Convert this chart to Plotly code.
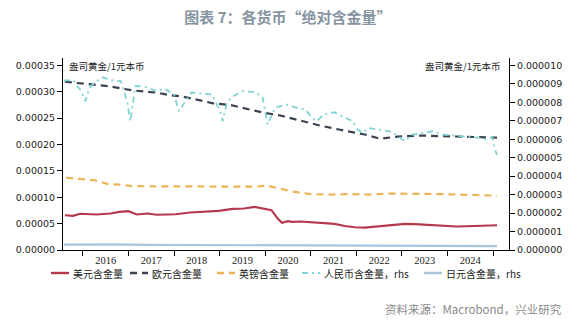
import plotly.graph_objects as go

# ---- data: ounces of gold per 1 unit of currency ----
usd_dates = ["2015-08-10", "2015-10-15", "2015-12-10", "2016-04-20", "2016-08-10", "2016-10-20",
             "2016-12-30", "2017-03-10", "2017-06-01", "2017-08-15", "2017-11-01", "2018-01-15",
             "2018-05-10", "2018-09-15", "2018-12-25", "2019-04-15", "2019-07-15", "2019-10-10",
             "2020-01-10", "2020-02-20", "2020-04-10", "2020-05-15", "2020-07-01", "2020-08-05",
             "2020-10-10", "2021-01-10", "2021-04-01", "2021-07-10", "2021-10-01", "2021-12-20",
             "2022-03-10", "2022-06-01", "2022-08-20", "2022-11-10", "2023-01-25", "2023-04-15",
             "2023-07-01", "2023-09-25", "2023-12-30", "2024-03-15", "2024-06-01", "2024-08-20",
             "2024-11-10", "2025-02-01"]
usd_vals = [6.60e-5, 6.48e-5, 6.86e-5, 6.73e-5, 6.92e-5, 7.23e-5,
            7.36e-5, 6.73e-5, 6.92e-5, 6.67e-5, 6.73e-5, 6.79e-5,
            7.11e-5, 7.23e-5, 7.42e-5, 7.80e-5, 7.86e-5, 8.17e-5,
            7.68e-5, 7.55e-5, 5.98e-5, 5.15e-5, 5.47e-5, 5.34e-5,
            5.40e-5, 5.25e-5, 5.05e-5, 4.95e-5, 4.55e-5, 4.30e-5,
            4.25e-5, 4.45e-5, 4.65e-5, 4.85e-5, 4.95e-5, 4.90e-5,
            4.80e-5, 4.75e-5, 4.55e-5, 4.45e-5, 4.50e-5, 4.60e-5,
            4.65e-5, 4.70e-5]

eur_dates = ["2015-08-10", "2016-01-01", "2016-05-01", "2016-08-10", "2016-11-10", "2017-02-25",
             "2017-06-05", "2017-08-25", "2017-11-15", "2018-03-05", "2018-05-25", "2018-08-15",
             "2018-11-10", "2019-03-25", "2019-07-25", "2019-12-05", "2020-05-01", "2020-10-05",
             "2021-03-15", "2021-10-01", "2022-03-10", "2022-07-10", "2022-11-25", "2023-05-25",
             "2024-01-20", "2024-09-15", "2025-02-01"]
eur_vals = [3.19e-4, 3.15e-4, 3.12e-4, 3.10e-4, 3.06e-4, 3.02e-4,
            3.00e-4, 2.98e-4, 2.94e-4, 2.91e-4, 2.87e-4, 2.83e-4,
            2.78e-4, 2.75e-4, 2.68e-4, 2.61e-4, 2.55e-4, 2.45e-4,
            2.36e-4, 2.26e-4, 2.19e-4, 2.11e-4, 2.15e-4, 2.17e-4,
            2.15e-4, 2.13e-4, 2.13e-4]

gbp_dates = ["2015-08-20", "2015-12-10", "2016-04-10", "2016-07-20", "2016-10-25", "2017-02-01",
             "2017-09-10", "2018-08-01", "2019-06-15", "2019-10-10", "2020-01-20", "2020-05-15",
             "2020-08-01", "2020-12-30", "2021-06-01", "2021-11-10", "2022-04-20", "2022-09-25",
             "2023-05-25", "2023-11-01", "2024-04-10", "2024-09-15", "2025-02-01"]
gbp_vals = [1.37e-4, 1.35e-4, 1.32e-4, 1.25e-4, 1.24e-4, 1.21e-4,
            1.21e-4, 1.21e-4, 1.21e-4, 1.20e-4, 1.22e-4, 1.15e-4,
            1.11e-4, 1.06e-4, 1.05e-4, 1.06e-4, 1.05e-4, 1.07e-4,
            1.07e-4, 1.06e-4, 1.05e-4, 1.04e-4, 1.03e-4]

cny_dates = ["2015-08-01", "2015-10-15", "2015-12-20", "2016-01-20", "2016-02-25", "2016-04-10",
             "2016-06-15", "2016-08-01", "2016-11-01", "2016-12-20", "2017-01-15", "2017-02-25",
             "2017-05-15", "2017-08-15", "2017-10-15", "2018-01-01", "2018-02-10", "2018-05-20",
             "2018-09-01", "2018-11-01", "2019-01-05", "2019-01-25", "2019-03-01", "2019-04-20",
             "2019-07-01", "2019-09-25", "2019-12-10", "2020-01-01", "2020-01-20", "2020-03-20",
             "2020-06-20", "2020-09-10", "2020-11-20", "2021-01-10", "2021-02-20", "2021-04-10",
             "2021-07-10", "2021-09-10", "2021-12-05", "2022-01-10", "2022-02-20", "2022-04-05",
             "2022-07-10", "2022-09-25", "2022-11-25", "2023-01-25", "2023-03-25", "2023-06-15",
             "2023-09-05", "2023-11-20", "2024-02-05", "2024-04-25", "2024-07-15", "2024-09-20",
             "2024-10-25", "2024-12-25", "2025-01-15", "2025-02-01"]
cny_vals = [9.18e-6, 9.20e-6, 8.60e-6, 8.06e-6, 8.80e-6, 9.10e-6,
            9.35e-6, 9.20e-6, 9.15e-6, 8.06e-6, 6.97e-6, 8.88e-6,
            8.84e-6, 8.60e-6, 8.75e-6, 8.42e-6, 7.52e-6, 8.53e-6,
            8.46e-6, 8.42e-6, 7.52e-6, 6.97e-6, 8.00e-6, 8.33e-6,
            8.60e-6, 8.57e-6, 8.33e-6, 7.60e-6, 6.80e-6, 7.70e-6,
            7.88e-6, 7.70e-6, 7.60e-6, 7.16e-6, 6.97e-6, 7.34e-6,
            7.46e-6, 7.24e-6, 6.97e-6, 6.52e-6, 6.34e-6, 6.61e-6,
            6.52e-6, 6.43e-6, 6.20e-6, 5.89e-6, 6.25e-6, 6.34e-6,
            6.43e-6, 6.25e-6, 6.20e-6, 6.16e-6, 6.12e-6, 6.07e-6,
            6.00e-6, 6.12e-6, 5.43e-6, 5.16e-6]

jpy_dates = ["2015-08-01", "2016-03-01", "2016-09-01", "2017-06-01", "2018-09-01", "2019-09-01",
             "2020-09-01", "2021-09-01", "2022-06-01", "2023-06-01", "2024-06-01", "2025-02-01"]
jpy_vals = [0.29e-6, 0.30e-6, 0.31e-6, 0.28e-6, 0.27e-6, 0.27e-6,
            0.26e-6, 0.25e-6, 0.22e-6, 0.22e-6, 0.21e-6, 0.21e-6]

series_names = ["美元含金量", "欧元含金量", "英镑含金量", "人民币含金量，rhs", "日元含金量，rhs"]
colors = ["#b5394c", "#3b4252", "#edb457", "#7fd3d3", "#a9c6dd"]
dashes = ["solid", "7px,5px", "7px,5px", "6px,4px,2px,4px", "solid"]
widths = [2.1, 2.2, 2.2, 1.8, 2.2]

# ---- figure ----
fig = go.Figure()
series = [(usd_dates, usd_vals, "y"), (eur_dates, eur_vals, "y"), (gbp_dates, gbp_vals, "y"),
          (cny_dates, cny_vals, "y2"), (jpy_dates, jpy_vals, "y2")]
for i, (xs, ys, ax) in enumerate(series):
    fig.add_trace(go.Scatter(x=xs, y=ys, name=series_names[i], mode="lines", yaxis=ax,
                             showlegend=False,
                             line=dict(color=colors[i], width=widths[i], dash=dashes[i])))

# plot area in pixels
L, R, T, B = 63, 509, 58, 250
PW, PH = R - L, B - T


def px_x(p):
    return (p - L) / PW


def px_y(p):
    return (B - p) / PH


# legend row below the axis, built from the series styles
legend_sym_start = [51, 130, 217, 302, 424]
legend_sym_len = 18
legend_y = 273
shapes = []
annotations = []
for i, name in enumerate(series_names):
    x0 = legend_sym_start[i]
    shapes.append(dict(type="line", xref="paper", yref="paper",
                       x0=px_x(x0), x1=px_x(x0 + legend_sym_len),
                       y0=px_y(legend_y), y1=px_y(legend_y),
                       line=dict(color=colors[i], width=widths[i] + 0.3, dash=dashes[i])))
    annotations.append(dict(text=name, xref="paper", yref="paper",
                            x=px_x(x0 + legend_sym_len + 2), y=px_y(legend_y + 0.5),
                            xanchor="left", yanchor="middle", showarrow=False,
                            font=dict(family="Noto Sans CJK SC", size=10, color="#222")))

annotations += [
    dict(text="盎司黄金/1元本币", xref="paper", yref="paper", x=px_x(67), y=px_y(66),
         xanchor="left", yanchor="middle", showarrow=False,
         font=dict(family="Noto Sans CJK SC", size=9.5, color="#222")),
    dict(text="盎司黄金/1元本币", xref="paper", yref="paper", x=px_x(503), y=px_y(66),
         xanchor="right", yanchor="middle", showarrow=False,
         font=dict(family="Noto Sans CJK SC", size=9.5, color="#222")),
    dict(text="资料来源：Macrobond，兴业研究", xref="paper", yref="paper",
         x=px_x(564), y=px_y(309), xanchor="right", yanchor="middle",
         showarrow=False, font=dict(family="Noto Sans CJK SC", size=11.5, color="#8a8a8a")),
]

axis_font = dict(family="DejaVu Sans", size=9.5, color="#222")

fig.update_layout(
    width=576, height=326,
    margin=dict(l=L, r=576 - R, t=T, b=326 - B, autoexpand=False),
    paper_bgcolor="white", plot_bgcolor="white",
    showlegend=False,
    title=dict(text="<b>图表 7：各货币“绝对含金量”</b>", x=0.5, xanchor="center",
               y=1 - 18 / 326, yanchor="middle", yref="container",
               font=dict(family="Noto Sans CJK SC", size=15, color="#8794a1")),
    xaxis=dict(type="date", range=["2015-07-26", "2025-05-08"],
               tick0="2016-01-01", dtick="M12", ticklabelmode="period", tickformat="%Y",
               ticks="outside", ticklen=5, tickcolor="#000", showline=True, linecolor="#000",
               linewidth=1, showgrid=False, zeroline=False, ticklabelstandoff=-5,
               tickfont=dict(family="Liberation Serif", size=10.5, color="#222")),
    yaxis=dict(range=[0, 0.000364], tickvals=[0, 5e-5, 1e-4, 1.5e-4, 2e-4, 2.5e-4, 3e-4, 3.5e-4],
               tickformat=".5f", ticks="outside", ticklen=5, tickcolor="#000",
               showline=True, linecolor="#000", linewidth=1, showgrid=False, zeroline=False,
               tickfont=axis_font),
    yaxis2=dict(range=[0, 0.0000104], overlaying="y", side="right",
                tickvals=[i * 1e-6 for i in range(11)], tickformat=".6f",
                ticks="outside", ticklen=5, tickcolor="#000",
                showline=True, linecolor="#000", linewidth=1, showgrid=False, zeroline=False,
                tickfont=axis_font),
    shapes=shapes,
    annotations=annotations,
)

fig.write_html("out.html")
